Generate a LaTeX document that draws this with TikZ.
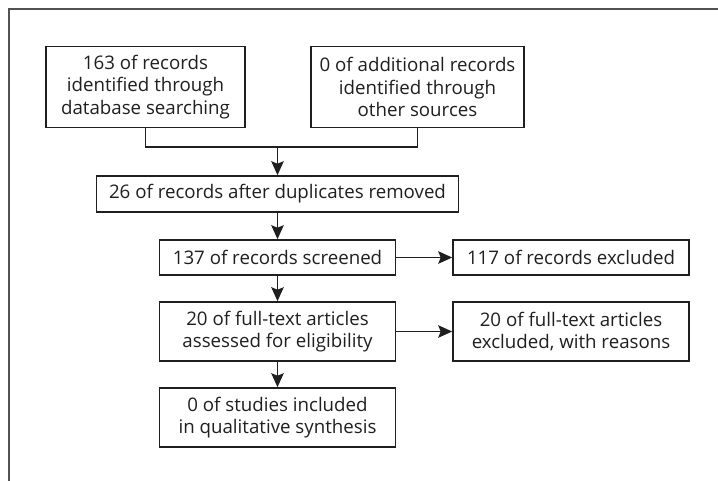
\documentclass[tikz,border=0pt]{standalone}
\usepackage{fontspec}
\setmainfont{Open Sans}
\usetikzlibrary{arrows.meta}
\tikzset{
  box/.style={draw=black!88, line width=1.6pt, align=center, inner sep=0pt,
    font=\fontsize{18.7pt}{22.6pt}\selectfont, text=black!88},
  conn/.style={draw=black!88, line width=1.4pt},
  arr/.style={conn, -{Stealth[length=14pt,width=12.5pt,inset=2.5pt]}},
}
\begin{document}
\begin{tikzpicture}[x=1pt,y=-1pt]
\useasboundingbox (0,0) rectangle (718,480);
\draw[draw=black!68, line width=2pt] (8.5,481) -- (8.5,9) -- (719,9);
\node[box, minimum width=199pt, minimum height=81pt] (b1) at (145.5,87) {163 of records\\identified through\\database searching};
\node[box, minimum width=213pt, minimum height=81pt] (b2) at (417.5,87) {0 of additional records\\identified through\\other sources};
\node[box, minimum width=362pt, minimum height=36pt] (b3) at (277.5,194) {26 of records after duplicates removed};
\node[box, minimum width=236pt, minimum height=35pt] (b4) at (277.5,257.5) {137 of records screened};
\node[box, minimum width=236pt, minimum height=35pt] (b5) at (571,257.5) {117 of records excluded};
\node[box, minimum width=236pt, minimum height=59pt] (b6) at (277.5,331.5) {20 of full-text articles\\assessed for eligibility};
\node[box, minimum width=236pt, minimum height=59pt] (b7) at (571,331.5) {20 of full-text articles\\excluded, with reasons};
\node[box, minimum width=236pt, minimum height=59pt] (b8) at (277.5,417.5) {0 of studies included\\in qualitative synthesis};
\coordinate (j) at (277.5,147);
\draw[conn] (b1.south) |- (j) -| (b2.south);
\draw[arr] (j) -- (b3.north);
\draw[arr] (b3.south) -- (b4.north);
\draw[arr] (b4.south) -- (b6.north);
\draw[arr] (b6.south) -- (b8.north);
\draw[arr] (b4.east) -- (b5.west);
\draw[arr] (b6.east) -- (b7.west);
\end{tikzpicture}
\end{document}
